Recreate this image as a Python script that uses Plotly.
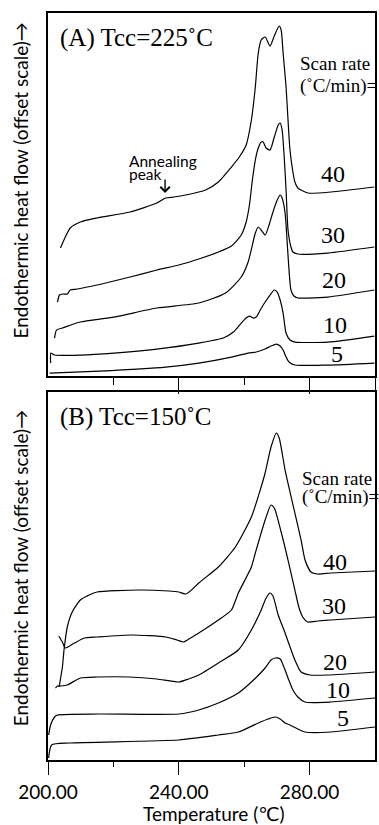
import plotly.graph_objects as go

# ---------------- data (temperature in °C, heat flow in arbitrary offset units) ----------------
# Panel A: Tcc = 225 °C
a40_T = [203.8, 205.3, 206.8, 209.9, 215.0, 225.1, 233.3, 236.0, 238.5, 242.1, 248.2, 252.1, 256.1, 258.5, 260.6, 262.2, 263.4, 264.3, 265.2, 266.4, 267.9, 269.2, 270.7, 271.3, 271.9, 272.8, 273.4, 274.0, 274.9, 275.5, 276.4, 279.5, 286.5, 299.8]
a40_H = [12.8, 13.9, 14.8, 15.4, 15.8, 16.4, 17.3, 17.8, 17.9, 18.1, 18.6, 19.4, 20.9, 21.9, 23.1, 25.6, 28.9, 32.3, 33.6, 33.9, 33.0, 34.0, 35.0, 34.6, 32.3, 28.9, 25.6, 22.6, 20.4, 19.4, 18.8, 18.3, 18.4, 18.9]

a30_T = [202.9, 203.5, 204.4, 205.9, 206.8, 209.0, 215.0, 225.1, 233.3, 240.0, 246.1, 252.1, 256.1, 259.1, 260.6, 261.6, 262.5, 263.4, 264.3, 265.2, 265.8, 266.7, 267.9, 269.2, 270.4, 271.0, 271.6, 272.2, 272.8, 273.4, 274.3, 274.9, 276.4, 285.6, 299.8]
a30_H = [7.4, 8.1, 8.2, 8.2, 8.6, 8.7, 9.1, 9.9, 10.6, 11.1, 11.7, 12.4, 13.0, 14.1, 15.4, 17.1, 19.6, 21.6, 22.8, 23.4, 23.4, 22.8, 22.6, 23.9, 25.1, 25.3, 24.6, 22.1, 18.6, 14.6, 12.9, 12.4, 12.2, 12.3, 12.9]

a20_T = [202.0, 202.6, 204.4, 209.9, 220.2, 233.3, 246.1, 254.3, 259.1, 261.2, 262.5, 263.4, 264.3, 265.2, 266.4, 267.6, 268.8, 270.1, 271.0, 271.6, 272.5, 273.1, 273.7, 274.3, 275.2, 276.4, 279.5, 285.6, 299.8]
a20_H = [3.8, 4.6, 4.8, 5.4, 5.9, 6.8, 7.3, 8.3, 9.9, 11.4, 13.1, 14.3, 14.9, 14.6, 14.1, 15.1, 16.4, 17.6, 18.1, 17.8, 16.3, 13.6, 10.6, 8.6, 8.0, 7.8, 7.8, 7.9, 8.6]

a10_T = [200.8, 200.9, 202.0, 209.9, 220.2, 233.3, 246.1, 253.6, 256.7, 259.1, 260.6, 261.6, 262.8, 263.7, 264.9, 266.4, 267.9, 269.2, 270.1, 271.0, 271.9, 272.8, 274.0, 275.5, 285.6, 299.8]
a10_H = [1.3, 2.3, 2.1, 2.1, 2.3, 2.7, 3.3, 3.8, 4.4, 5.3, 5.8, 6.0, 5.8, 5.9, 6.6, 7.4, 8.1, 8.6, 8.4, 7.6, 6.3, 4.3, 3.6, 3.4, 3.4, 4.0]

a5_T = [200.5, 215.7, 236.0, 246.1, 256.1, 261.2, 263.7, 266.4, 268.2, 269.8, 271.0, 271.9, 272.8, 273.7, 275.5, 285.6, 299.8]
a5_H = [0.3, 0.5, 0.9, 1.3, 1.9, 2.3, 2.4, 2.7, 3.0, 3.2, 3.0, 2.6, 1.9, 1.4, 1.1, 1.1, 1.3]

# Panel B: Tcc = 150 °C
b40_T = [203.4, 204.4, 204.9, 205.9, 207.4, 209.9, 212.6, 215.0, 227.8, 236.9, 240.0, 242.1, 243.9, 246.1, 252.1, 257.3, 262.2, 264.9, 266.4, 268.2, 269.8, 270.7, 272.5, 275.5, 277.4, 278.6, 280.4, 282.5, 286.5, 300.0]
b40_H = [7.3, 9.3, 11.0, 13.3, 14.8, 16.0, 16.5, 16.8, 17.0, 16.9, 16.8, 16.6, 17.0, 17.7, 19.3, 21.3, 24.3, 27.0, 28.7, 31.3, 32.7, 32.2, 29.0, 24.7, 22.0, 20.0, 18.8, 18.6, 18.7, 18.9]

b30_T = [203.3, 204.4, 205.3, 208.1, 211.1, 215.0, 225.7, 236.0, 239.4, 241.5, 243.6, 246.1, 252.1, 256.1, 258.2, 262.2, 263.4, 266.4, 268.2, 269.2, 271.3, 273.4, 275.5, 276.7, 277.9, 279.4, 282.5, 286.5, 300.0]
b30_H = [12.4, 11.8, 11.2, 11.7, 12.2, 12.3, 12.5, 12.3, 12.0, 11.8, 12.2, 12.7, 14.0, 15.0, 16.7, 19.3, 20.7, 24.0, 25.5, 25.2, 22.8, 20.0, 17.0, 15.3, 14.3, 13.8, 13.9, 14.0, 14.3]

b20_T = [202.3, 202.9, 204.1, 205.9, 209.9, 215.0, 224.8, 233.3, 240.0, 243.0, 246.1, 252.1, 258.2, 262.2, 265.2, 266.7, 267.9, 268.8, 270.4, 272.5, 275.5, 277.4, 280.1, 285.6, 300.0]
b20_H = [7.2, 7.4, 7.4, 7.5, 8.2, 8.3, 8.3, 8.1, 7.8, 8.1, 8.5, 9.7, 11.0, 13.0, 15.0, 16.2, 16.7, 16.4, 14.5, 12.7, 10.0, 8.8, 8.5, 8.5, 8.8]

b10_T = [200.2, 200.8, 202.0, 202.9, 215.7, 240.0, 246.1, 252.1, 258.2, 262.2, 266.4, 268.2, 269.5, 271.0, 271.9, 273.4, 274.9, 276.4, 278.6, 286.5, 300.0]
b10_H = [2.5, 3.5, 4.3, 4.5, 4.6, 4.6, 5.0, 5.7, 6.7, 7.8, 9.2, 10.0, 10.2, 10.1, 9.5, 8.2, 7.0, 6.3, 5.8, 5.8, 6.2]

b5_T = [200.2, 201.1, 206.6, 240.0, 252.1, 258.2, 264.3, 267.3, 269.5, 271.0, 272.5, 274.0, 276.4, 278.6, 286.5, 300.0]
b5_H = [0.2, 1.5, 1.7, 2.0, 2.5, 2.8, 3.7, 4.1, 4.3, 4.1, 3.7, 3.5, 3.1, 2.8, 2.8, 3.3]

scan_rates = ["40", "30", "20", "10", "5"]
# label anchor positions (T, H) for each scan-rate label
a_label_T = [287.1, 287.1, 287.4, 287.7, 288.3]
a_label_H = [20.2, 14.1, 9.6, 5.1, 2.2]
b_label_T = [287.7, 287.4, 287.7, 288.6, 290.2]
b_label_H = [19.8, 15.4, 9.8, 7.0, 4.2]

x_tickvals = [200, 240, 280]
x_ticktext = ["200.00", "240.00", "280.00"]

# ---------------- figure ----------------
fig = go.Figure()
line = dict(color="black", width=1.2)
for T, H in [(a40_T, a40_H), (a30_T, a30_H), (a20_T, a20_H), (a10_T, a10_H), (a5_T, a5_H)]:
    fig.add_trace(go.Scatter(x=T, y=H, mode="lines", line=dict(line, shape="spline", smoothing=0.6),
                             xaxis="x", yaxis="y", showlegend=False, hoverinfo="skip"))
for T, H in [(b40_T, b40_H), (b30_T, b30_H), (b20_T, b20_H), (b10_T, b10_H), (b5_T, b5_H)]:
    fig.add_trace(go.Scatter(x=T, y=H, mode="lines", line=dict(line, shape="spline", smoothing=0.6),
                             xaxis="x2", yaxis="y2", showlegend=False, hoverinfo="skip"))

serif = "Liberation Serif, Times New Roman, serif"
sans = "Lato, Open Sans, DejaVu Sans, sans-serif"

ann = []
for xr, yr, title, lt, lh, top in [("x", "y", "(A) Tcc=225˚C", a_label_T, a_label_H, 33.8),
                                   ("x2", "y2", "(B) Tcc=150˚C", b_label_T, b_label_H, 34.3)]:
    ann.append(dict(xref=xr, yref=yr, x=203.0, y=top, text=title, showarrow=False, xanchor="left",
                    yanchor="middle", font=dict(family=serif, size=25, color="black")))
    for s, tx, hy in zip(scan_rates, lt, lh):
        ann.append(dict(xref=xr, yref=yr, x=tx, y=hy, text=s, showarrow=False, xanchor="center",
                        yanchor="middle", font=dict(family=serif, size=24, color="black")))

ann.append(dict(xref="x", yref="y", x=276.4, y=31.3, text="Scan rate", showarrow=False, xanchor="left",
                yanchor="middle", font=dict(family=serif, size=19, color="black")))
ann.append(dict(xref="x", yref="y", x=276.4, y=29.0, text="(˚C/min)=", showarrow=False, xanchor="left",
                yanchor="middle", font=dict(family=serif, size=19, color="black")))
ann.append(dict(xref="x2", yref="y2", x=277.0, y=28.2, text="Scan rate", showarrow=False, xanchor="left",
                yanchor="middle", font=dict(family=serif, size=19, color="black")))
ann.append(dict(xref="x2", yref="y2", x=277.0, y=26.3, text="(˚C/min)=", showarrow=False, xanchor="left",
                yanchor="middle", font=dict(family=serif, size=19, color="black")))

# annealing peak note
ann.append(dict(xref="x", yref="y", x=224.2, y=21.5, text="Annealing", showarrow=False, xanchor="left",
                yanchor="middle", font=dict(family=sans, size=15.5, color="black")))
ann.append(dict(xref="x", yref="y", x=224.2, y=20.2, text="peak", showarrow=False, xanchor="left",
                yanchor="middle", font=dict(family=sans, size=15.5, color="black")))
ann.append(dict(xref="x", yref="y", x=235.8, y=18.3, ax=0, ay=-15, text="", showarrow=True,
                arrowhead=4, arrowsize=1.3, arrowwidth=1.4, arrowcolor="black"))

# y-axis titles
ytitle = "Endothermic heat flow (offset scale)→"
ann.append(dict(xref="paper", yref="paper", x=-0.085, y=0.776, text=ytitle, textangle=-90, showarrow=False,
                xanchor="center", yanchor="middle", font=dict(family=sans, size=19, color="black")))
ann.append(dict(xref="paper", yref="paper", x=-0.085, y=0.257, text=ytitle, textangle=-90, showarrow=False,
                xanchor="center", yanchor="middle", font=dict(family=sans, size=19, color="black")))
# x title
ann.append(dict(xref="paper", yref="paper", x=0.508, y=-0.071, text="Temperature (℃)", showarrow=False,
                xanchor="center", yanchor="middle", font=dict(family=sans, size=19, color="black")))

frame = dict(showline=True, linecolor="black", linewidth=1.5, mirror=True, showgrid=False, zeroline=False)

fig.update_layout(
    width=379, height=825,
    margin=dict(l=48, r=2, t=13, b=65),
    paper_bgcolor="white", plot_bgcolor="white",
    showlegend=False,
    annotations=ann,
    xaxis=dict(frame, domain=[0, 1], range=[200, 300], anchor="y", tickvals=[240, 280, 300],
               ticks="outside", ticklen=16, tickwidth=1.2, tickcolor="black", showticklabels=False,
               minor=dict(tickvals=[220, 260], ticks="outside", ticklen=7, tickwidth=1.2, tickcolor="black")),
    yaxis=dict(frame, domain=[0.514, 1.0], range=[0, 36.3], anchor="x", showticklabels=False, ticks=""),
    xaxis2=dict(frame, domain=[0, 1], range=[200, 300], anchor="y2", tickvals=x_tickvals, ticktext=x_ticktext,
                ticks="outside", ticklen=13, tickwidth=1.2, tickcolor="black",
                tickfont=dict(family=sans, size=19, color="black"), ticklabelstandoff=1,
                minor=dict(tickvals=[220, 260], ticks="outside", ticklen=5, tickwidth=1.2, tickcolor="black")),
    yaxis2=dict(frame, domain=[0, 0.4926], range=[0, 36.8], anchor="x2", showticklabels=False, ticks=""),
)

fig.write_html("out.html", config={"displayModeBar": False},
               post_script="document.body.style.margin='0';document.body.style.overflow='hidden';")
